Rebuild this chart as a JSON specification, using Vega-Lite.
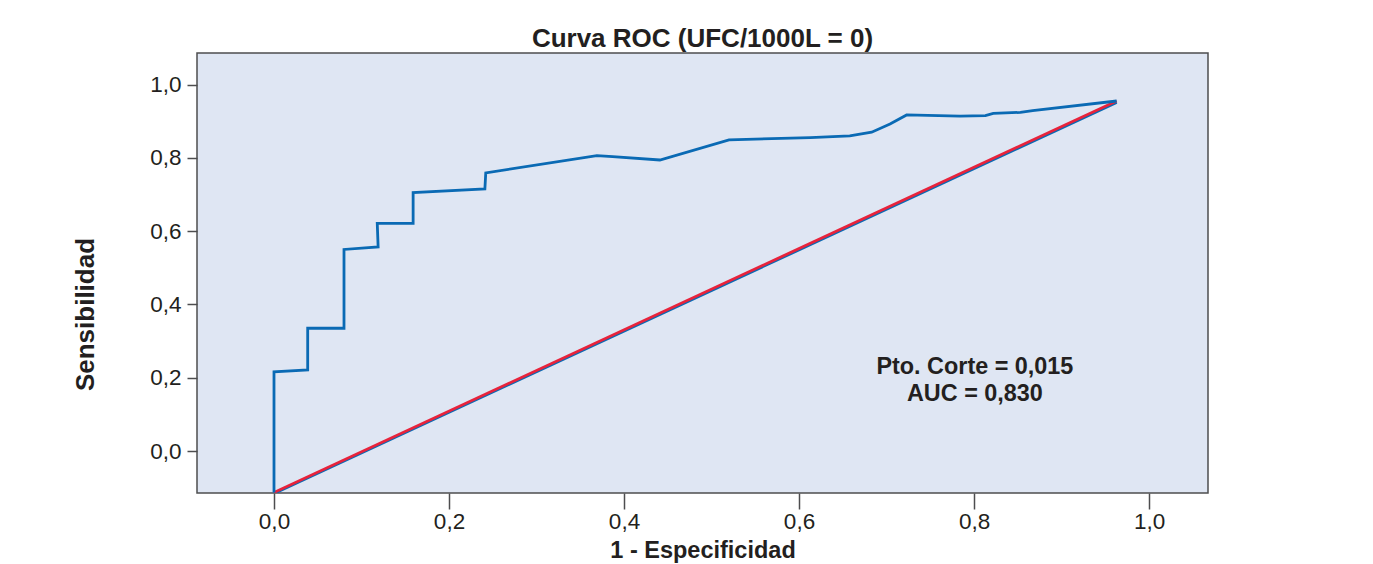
{
  "$schema": "https://vega.github.io/schema/vega-lite/v6.json",
  "autosize": "none",
  "width": 1011,
  "height": 440,
  "padding": {"left": 197, "top": 53, "right": 165, "bottom": 71},
  "background": "#ffffff",
  "title": {
    "text": "Curva ROC (UFC/1000L = 0)",
    "font": "Liberation Sans",
    "fontSize": 26,
    "fontWeight": "bold",
    "color": "#231f20",
    "anchor": "middle",
    "offset": 1
  },
  "datasets": {
    "roc": [
      {"fpr": 0.0, "tpr": -0.113},
      {"fpr": 0.0, "tpr": 0.216},
      {"fpr": 0.0385, "tpr": 0.221},
      {"fpr": 0.0385, "tpr": 0.335},
      {"fpr": 0.080, "tpr": 0.335},
      {"fpr": 0.080, "tpr": 0.550},
      {"fpr": 0.119, "tpr": 0.557},
      {"fpr": 0.118, "tpr": 0.621},
      {"fpr": 0.159, "tpr": 0.621},
      {"fpr": 0.159, "tpr": 0.705},
      {"fpr": 0.241, "tpr": 0.715},
      {"fpr": 0.242, "tpr": 0.759},
      {"fpr": 0.369, "tpr": 0.806},
      {"fpr": 0.387, "tpr": 0.803},
      {"fpr": 0.441, "tpr": 0.794},
      {"fpr": 0.520, "tpr": 0.849},
      {"fpr": 0.613, "tpr": 0.855},
      {"fpr": 0.658, "tpr": 0.860},
      {"fpr": 0.683, "tpr": 0.870},
      {"fpr": 0.704, "tpr": 0.892},
      {"fpr": 0.723, "tpr": 0.917},
      {"fpr": 0.784, "tpr": 0.914},
      {"fpr": 0.813, "tpr": 0.915},
      {"fpr": 0.822, "tpr": 0.921},
      {"fpr": 0.853, "tpr": 0.924},
      {"fpr": 0.867, "tpr": 0.929},
      {"fpr": 0.963, "tpr": 0.955}
    ],
    "diagblue": [
      {"fpr": 0.0, "tpr": -0.116},
      {"fpr": 0.963, "tpr": 0.951}
    ],
    "diag": [
      {"fpr": 0.0, "tpr": -0.113},
      {"fpr": 0.963, "tpr": 0.955}
    ],
    "notes": [
      {"fpr": 0.801, "tpr": 0.229, "label": "Pto. Corte = 0,015"},
      {"fpr": 0.801, "tpr": 0.156, "label": "AUC = 0,830"}
    ]
  },
  "encoding": {
    "x": {
      "field": "fpr",
      "type": "quantitative",
      "scale": {"domain": [-0.088, 1.0674], "nice": false, "zero": false},
      "axis": {
        "title": "1 - Especificidad",
        "values": [0, 0.2, 0.4, 0.6, 0.8, 1.0],
        "labelExpr": "replace(format(datum.value, '.1f'), '.', ',')",
        "grid": false,
        "domain": false,
        "tickSize": 16,
        "tickWidth": 1.5,
        "tickColor": "#4d4d4f",
        "labelPadding": 1,
        "labelFont": "Liberation Sans",
        "labelFontSize": 22.5,
        "labelColor": "#231f20",
        "titleFont": "Liberation Sans",
        "titleFontSize": 23.5,
        "titleFontWeight": "bold",
        "titleColor": "#231f20",
        "titlePadding": 6
      }
    },
    "y": {
      "field": "tpr",
      "type": "quantitative",
      "scale": {"domain": [-0.1146, 1.086], "nice": false, "zero": false},
      "axis": {
        "title": "Sensibilidad",
        "values": [0, 0.2, 0.4, 0.6, 0.8, 1.0],
        "labelExpr": "replace(format(datum.value, '.1f'), '.', ',')",
        "grid": false,
        "domain": false,
        "tickSize": 10,
        "tickWidth": 1.5,
        "tickColor": "#4d4d4f",
        "labelPadding": 6,
        "labelFont": "Liberation Sans",
        "labelFontSize": 22.5,
        "labelColor": "#231f20",
        "titleFont": "Liberation Sans",
        "titleFontSize": 26,
        "titleFontWeight": "bold",
        "titleColor": "#231f20",
        "titleX": -99,
        "titleY": 261,
        "titleAngle": -90,
        "titleAlign": "center",
        "titleBaseline": "bottom"
      }
    }
  },
  "layer": [
    {
      "data": {"name": "diagblue"},
      "mark": {"type": "line", "color": "#0a6ab4", "strokeWidth": 2.8, "clip": true},
      "encoding": {}
    },
    {
      "data": {"name": "diag"},
      "mark": {"type": "line", "color": "#e8233b", "strokeWidth": 2.8, "clip": true},
      "encoding": {}
    },
    {
      "data": {"name": "roc"},
      "mark": {"type": "line", "color": "#0a6ab4", "strokeWidth": 2.8, "strokeJoin": "miter", "clip": true},
      "encoding": {"order": {"value": null}}
    },
    {
      "data": {"name": "notes"},
      "mark": {
        "type": "text",
        "font": "Liberation Sans",
        "fontSize": 23.4,
        "fontWeight": "bold",
        "color": "#231f20",
        "align": "center",
        "baseline": "middle"
      },
      "encoding": {"text": {"field": "label", "type": "nominal"}}
    }
  ],
  "config": {
    "view": {"fill": "#dfe6f3", "stroke": "#4d4d4f", "strokeWidth": 1.5},
    "line": {"interpolate": "linear"}
  }
}
